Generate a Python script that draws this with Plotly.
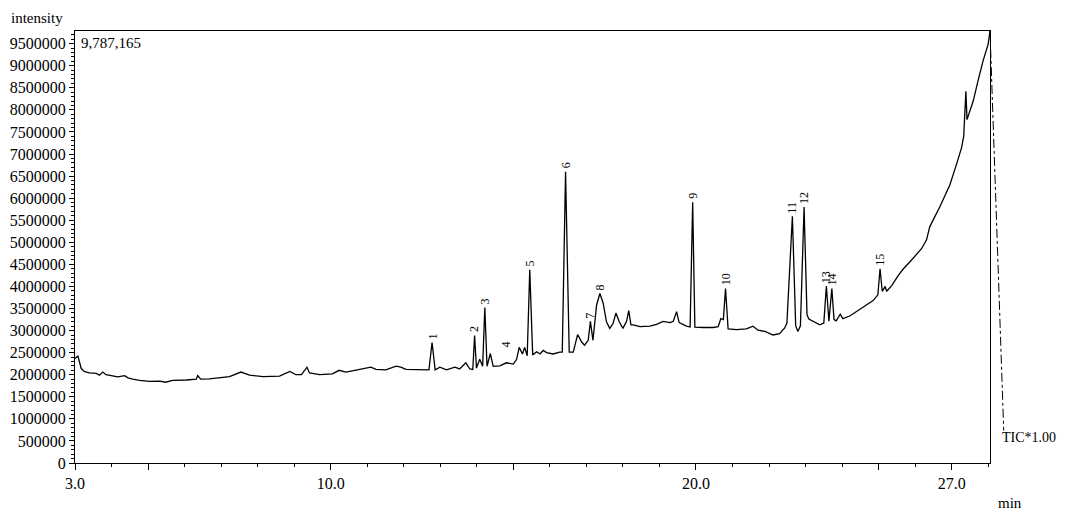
import plotly.graph_objects as go

# Retention time (min) and intensity
rt = [3.00, 3.08, 3.17, 3.26, 3.40, 3.58, 3.67, 3.76, 3.85, 4.04, 4.17, 4.36, 4.45, 4.58, 4.77,
      5.04, 5.32, 5.48, 5.67, 6.05, 6.32, 6.36, 6.44, 6.68, 7.23, 7.54, 7.78, 8.15, 8.60, 8.88,
      9.05, 9.20, 9.35, 9.42, 9.70, 10.05, 10.23, 10.42, 10.69, 10.87, 11.10, 11.24, 11.51, 11.79,
      11.92, 12.06, 12.33, 12.60, 12.69, 12.775, 12.86, 12.99, 13.17, 13.40, 13.53, 13.70, 13.81,
      13.89, 13.94, 13.99, 14.08, 14.16, 14.22, 14.28, 14.37, 14.45, 14.63, 14.81, 15.00, 15.09,
      15.16, 15.25, 15.31, 15.38, 15.45, 15.53, 15.64, 15.73, 15.82, 15.91, 16.09, 16.27, 16.34,
      16.43, 16.53, 16.64, 16.76, 16.87, 16.95, 17.05, 17.11, 17.18, 17.28, 17.37, 17.46, 17.55,
      17.64, 17.73, 17.81, 17.90, 18.00, 18.10, 18.16, 18.22, 18.28, 18.47, 18.69, 18.74, 18.92,
      19.10, 19.29, 19.38, 19.47, 19.54, 19.74, 19.84, 19.91, 19.97, 20.20, 20.47, 20.61, 20.68,
      20.75, 20.81, 20.88, 21.11, 21.38, 21.56, 21.70, 21.89, 22.11, 22.29, 22.43, 22.49, 22.64,
      22.73, 22.79, 22.86, 22.96, 23.04, 23.09, 23.20, 23.39, 23.50, 23.57, 23.64, 23.72, 23.78,
      23.84, 23.95, 24.02, 24.21, 24.43, 24.67, 24.85, 24.98, 25.04, 25.10, 25.18, 25.22, 25.36,
      25.54, 25.68, 25.86, 26.18, 26.31, 26.40, 26.68, 26.95, 27.13, 27.27, 27.33, 27.39, 27.42,
      27.59, 27.72, 27.86, 28.00, 28.05]

intensity = [2370000, 2420000, 2140000, 2070000, 2040000, 2030000, 1990000, 2060000, 2000000,
             1980000, 1950000, 1980000, 1930000, 1900000, 1870000, 1850000, 1855000, 1830000,
             1870000, 1880000, 1900000, 1980000, 1900000, 1905000, 1955000, 2060000, 1990000,
             1955000, 1970000, 2075000, 2000000, 2000000, 2170000, 2040000, 2000000, 2020000,
             2100000, 2060000, 2100000, 2130000, 2170000, 2120000, 2110000, 2195000, 2170000,
             2120000, 2120000, 2120000, 2110000, 2730000, 2110000, 2170000, 2110000, 2170000,
             2130000, 2270000, 2130000, 2120000, 2890000, 2150000, 2350000, 2190000, 3520000,
             2190000, 2480000, 2190000, 2200000, 2270000, 2240000, 2350000, 2620000, 2470000,
             2620000, 2430000, 4380000, 2450000, 2520000, 2470000, 2550000, 2500000, 2470000,
             2510000, 2510000, 6600000, 2510000, 2510000, 2910000, 2740000, 2670000, 2780000,
             3210000, 2780000, 3580000, 3840000, 3620000, 3200000, 3050000, 3160000, 3400000,
             3200000, 3050000, 3210000, 3450000, 3130000, 3130000, 3090000, 3090000, 3100000,
             3140000, 3210000, 3180000, 3210000, 3430000, 3180000, 3100000, 3080000, 5910000,
             3080000, 3070000, 3070000, 3090000, 3270000, 3250000, 3950000, 3040000, 3020000,
             3040000, 3100000, 3010000, 2980000, 2900000, 2930000, 3060000, 3170000, 5590000,
             3110000, 2980000, 3110000, 5800000, 3360000, 3260000, 3210000, 3130000, 3170000,
             4010000, 3210000, 3950000, 3250000, 3220000, 3370000, 3270000, 3330000, 3450000,
             3570000, 3680000, 3810000, 4400000, 3890000, 4000000, 3890000, 4020000, 4250000,
             4400000, 4560000, 4860000, 5050000, 5350000, 5810000, 6300000, 6760000, 7140000,
             7400000, 8420000, 7780000, 8200000, 8650000, 9110000, 9490000, 9787165]

# Peak labels
peak_labels = ["1", "2", "3", "4", "5", "6", "7", "8", "9", "10", "11", "12", "13", "14", "15"]
peak_rt = [12.775, 13.94, 14.22, 14.81, 15.45, 16.43, 17.11, 17.37, 19.91, 20.81, 22.64, 22.96,
           23.57, 23.72, 25.04]
peak_top = [2730000, 2890000, 3520000, 2560000, 4380000, 6600000, 3210000, 3840000, 5910000,
            3950000, 5590000, 5800000, 4010000, 3950000, 4400000]

x_tickvals = [3, 5, 10, 15, 20, 25, 27]
x_ticktext = ["3.0", "", "10.0", "", "20.0", "", "27.0"]
y_max = 9787165

FONT = "Liberation Serif"

fig = go.Figure()
fig.add_trace(go.Scatter(x=rt, y=intensity, mode="lines",
                         line=dict(color="black", width=1.3), hoverinfo="skip",
                         showlegend=False))

for lab, x, y in zip(peak_labels, peak_rt, peak_top):
    fig.add_annotation(x=x, y=y, text=lab, textangle=-90, showarrow=False,
                       xanchor="center", yanchor="bottom", yshift=1,
                       font=dict(family=FONT, size=12, color="black"))

fig.add_annotation(xref="paper", yref="paper", x=-0.0415, y=1.03, text="intensity",
                   showarrow=False, xanchor="center", yanchor="middle",
                   font=dict(family=FONT, size=15, color="black"))
fig.add_annotation(xref="paper", yref="paper", x=0.004, y=0.972, text="9,787,165",
                   showarrow=False, xanchor="left", yanchor="middle",
                   font=dict(family=FONT, size=15, color="black"))
fig.add_annotation(xref="paper", yref="paper", x=1.011, y=0.058, text="TIC*1.00",
                   showarrow=False, xanchor="left", yanchor="middle",
                   font=dict(family=FONT, size=14, color="black"))
fig.add_annotation(xref="paper", yref="paper", x=1.022, y=-0.093, text="min",
                   showarrow=False, xanchor="center", yanchor="middle",
                   font=dict(family=FONT, size=15, color="black"))

fig.add_shape(type="line", xref="paper", yref="paper", x0=1.0, y0=1.0, x1=1.015, y1=0.075,
              line=dict(color="black", width=1, dash="dashdot"))

fig.update_xaxes(range=[3, 28.05], tickmode="array", tickvals=x_tickvals, ticktext=x_ticktext,
                 ticks="outside", ticklen=6, tickcolor="black", showline=True, mirror=True,
                 linecolor="black", linewidth=1, showgrid=False, zeroline=False,
                 automargin=False,
                 tickfont=dict(family=FONT, size=16, color="black"),
                 minor=dict(tickmode="linear", tick0=3, dtick=1, ticks="outside", ticklen=3,
                            tickcolor="black", showgrid=False))
fig.update_yaxes(range=[0, y_max], tick0=0, dtick=500000, tickformat="d",
                 ticks="outside", ticklen=5, tickcolor="black", showline=True, mirror=True,
                 linecolor="black", linewidth=1, showgrid=False, zeroline=False,
                 automargin=False,
                 tickfont=dict(family=FONT, size=16, color="black"),
                 minor=dict(dtick=100000, ticks="outside", ticklen=3, tickcolor="black",
                            showgrid=False))

# The page body adds an 8 px offset, so the figure is sized to fit the 1065x511 window
fig.update_layout(width=1057, height=503, margin=dict(l=67, r=75, t=23, b=48),
                  paper_bgcolor="white", plot_bgcolor="white",
                  font=dict(family=FONT, color="black"))

fig.write_html("out.html")
